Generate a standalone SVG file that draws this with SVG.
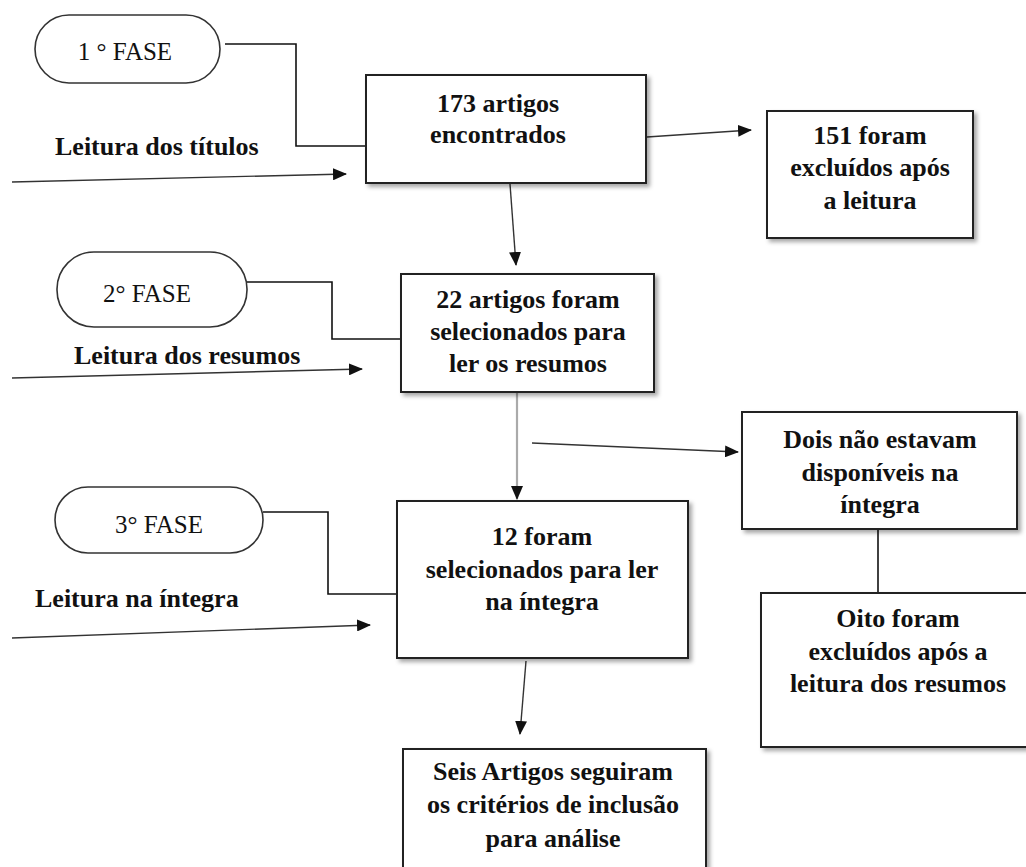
<svg xmlns="http://www.w3.org/2000/svg" width="1026" height="867" viewBox="0 0 1026 867">
<style>
.box{fill:#fff;stroke:#222;stroke-width:2;filter:url(#sh)}
.pill{fill:#fff;stroke:#333;stroke-width:1.6}
.bt{font-family:"Liberation Serif","Times New Roman",serif;font-weight:bold;font-size:26px;fill:#111;text-anchor:middle}
.pt{font-family:"Liberation Serif","Times New Roman",serif;font-size:25px;fill:#111;text-anchor:middle}
.lt{font-family:"Liberation Serif","Times New Roman",serif;font-weight:bold;font-size:26px;fill:#111}
.ln{fill:none;stroke:#111;stroke-width:1.6}
.ar{fill:none;stroke:#333;stroke-width:1.4;marker-end:url(#ah)}
.ag{fill:none;stroke:#aaa;stroke-width:2.2;marker-end:url(#ah)}
</style>
<defs>
<filter id="sh" x="-10%" y="-10%" width="130%" height="130%">
<feDropShadow dx="3" dy="3" stdDeviation="2" flood-color="#000" flood-opacity="0.35"/>
</filter>
<marker id="ah" markerUnits="userSpaceOnUse" markerWidth="14" markerHeight="12" refX="13" refY="6" orient="auto">
<path d="M0,0 L14,6 L0,12 Z" fill="#111"/>
</marker>
</defs>
<rect width="1026" height="867" fill="#fff"/>

<g id="connectors">
<polyline class="ln" points="225,44 296,44 296,146 366,146"/>
<polyline class="ln" points="247,282 332,282 332,339 401,339"/>
<polyline class="ln" points="263,512 328,512 328,594 397,594"/>
<line class="ar" x1="12" y1="182" x2="346" y2="174"/>
<line class="ar" x1="12" y1="378" x2="362" y2="369"/>
<line class="ar" x1="12" y1="638" x2="370" y2="625"/>
<line class="ar" x1="647" y1="137" x2="751" y2="130"/>
<line class="ar" x1="510" y1="184" x2="516" y2="265"/>
<line class="ag" x1="517" y1="393" x2="517" y2="499"/>
<line class="ar" x1="532" y1="443" x2="738" y2="452"/>
<line class="ln" x1="878" y1="529" x2="878" y2="593"/>
<line class="ar" x1="526" y1="661" x2="520" y2="734"/>
</g>

<g id="fase1">
<rect class="pill" x="35" y="15" width="185" height="68" rx="34"/>
<text class="pt" x="125" y="60">1 ° FASE</text>
</g>
<g id="fase2">
<rect class="pill" x="57" y="252" width="190" height="75" rx="37"/>
<text class="pt" x="147" y="302">2° FASE</text>
</g>
<g id="fase3">
<rect class="pill" x="55" y="487" width="208" height="66" rx="33"/>
<text class="pt" x="159" y="533">3° FASE</text>
</g>

<g id="label1"><text class="lt" x="55" y="155">Leitura dos títulos</text></g>
<g id="label2"><text class="lt" x="74" y="364">Leitura dos resumos</text></g>
<g id="label3"><text class="lt" x="35" y="607">Leitura na íntegra</text></g>

<g id="n173">
<rect class="box" x="366" y="75" width="280" height="108"/>
<text class="bt" x="498" y="112">173 artigos</text>
<text class="bt" x="498" y="143">encontrados</text>
</g>
<g id="n151">
<rect class="box" x="767" y="111" width="206" height="127"/>
<text class="bt" x="870" y="144">151 foram</text>
<text class="bt" x="870" y="176">excluídos após</text>
<text class="bt" x="870" y="209">a leitura</text>
</g>
<g id="n22">
<rect class="box" x="401" y="274" width="253" height="118"/>
<text class="bt" x="528" y="308">22 artigos foram</text>
<text class="bt" x="528" y="340">selecionados para</text>
<text class="bt" x="528" y="372">ler os resumos</text>
</g>
<g id="ndois">
<rect class="box" x="742" y="412" width="275" height="117"/>
<text class="bt" x="880" y="448">Dois não estavam</text>
<text class="bt" x="880" y="481">disponíveis na</text>
<text class="bt" x="880" y="513">íntegra</text>
</g>
<g id="noito">
<rect class="box" x="761" y="593" width="274" height="154"/>
<text class="bt" x="898" y="627">Oito foram</text>
<text class="bt" x="898" y="660">excluídos após a</text>
<text class="bt" x="898" y="692">leitura dos resumos</text>
</g>
<g id="n12">
<rect class="box" x="397" y="501" width="291" height="157"/>
<text class="bt" x="542" y="545">12 foram</text>
<text class="bt" x="542" y="578">selecionados para ler</text>
<text class="bt" x="542" y="610">na íntegra</text>
</g>
<g id="nseis">
<rect class="box" x="403" y="749" width="303" height="140"/>
<text class="bt" x="553" y="780">Seis Artigos seguiram</text>
<text class="bt" x="553" y="813">os critérios de inclusão</text>
<text class="bt" x="553" y="847">para análise</text>
</g>
</svg>
